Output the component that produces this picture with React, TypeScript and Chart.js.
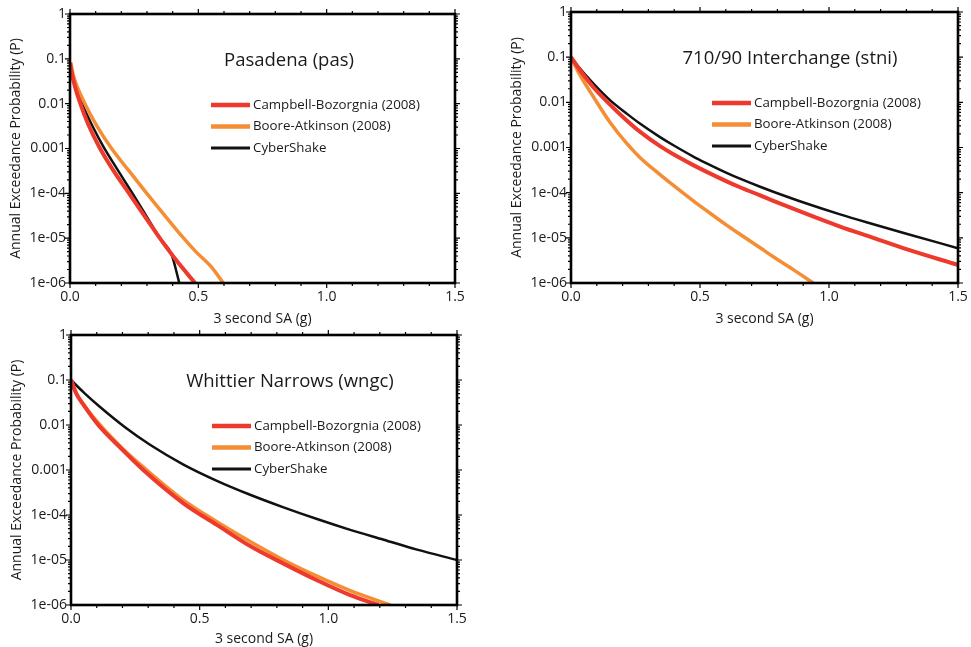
import React, { useEffect, useRef } from "react";
import { Chart, registerables } from "chart.js";

Chart.register(...registerables);

// ---------- data ----------
const SERIES_LABELS = ["Campbell-Bozorgnia (2008)", "Boore-Atkinson (2008)", "CyberShake"];
const SERIES_COLORS = ["#ee3a2c", "#f58d35", "#111111"];

const X_TICK_VALUES = [0, 0.5, 1.0, 1.5];
const X_TICK_LABELS = ["0.0", "0.5", "1.0", "1.5"];
const Y_TICK_VALUES = [1e-6, 1e-5, 1e-4, 1e-3, 1e-2, 1e-1, 1];
const Y_TICK_LABELS = ["1e-06", "1e-05", "1e-04", "0.001", "0.01", "0.1", "1"];
const X_TITLE = "3 second SA (g)";
const Y_TITLE = "Annual Exceedance Probability (P)";

// Pasadena (pas)
const PAS_CB_X = [0, 0.01, 0.02, 0.039, 0.07, 0.115, 0.17, 0.23, 0.29, 0.35, 0.415, 0.487];
const PAS_CB_P = [7.94e-2, 3.98e-2, 2.34e-2, 1.05e-2, 3.55e-3, 1.05e-3, 3.16e-4, 1.0e-4, 3.16e-5, 1.0e-5, 3.16e-6, 1.0e-6];
const PAS_BA_X = [0.003, 0.012, 0.03, 0.058, 0.105, 0.162, 0.23, 0.299, 0.367, 0.435, 0.49, 0.549, 0.597];
const PAS_BA_P = [8.32e-2, 4.47e-2, 2.24e-2, 1.0e-2, 3.16e-3, 1.0e-3, 3.16e-4, 1.0e-4, 3.31e-5, 1.12e-5, 5.01e-6, 2.34e-6, 1.0e-6];
const PAS_CS_X = [0, 0.01, 0.025, 0.049, 0.085, 0.13, 0.185, 0.24, 0.295, 0.35, 0.396, 0.426];
const PAS_CS_P = [7.94e-2, 4.17e-2, 2.09e-2, 9.33e-3, 3.39e-3, 1.1e-3, 3.39e-4, 1.07e-4, 3.31e-5, 1.0e-5, 4.27e-6, 1.0e-6];

// 710/90 Interchange (stni)
const STNI_CB_X = [0, 0.03, 0.086, 0.151, 0.216, 0.267, 0.345, 0.397, 0.474, 0.526, 0.603, 0.655, 0.733, 0.784, 0.913, 1.043, 1.172, 1.3, 1.5];
const STNI_CB_P = [1.0e-1, 5.62e-2, 2.19e-2, 8.91e-3, 3.98e-3, 2.24e-3, 1.07e-3, 7.08e-4, 4.07e-4, 2.88e-4, 1.78e-4, 1.32e-4, 8.71e-5, 6.61e-5, 3.39e-5, 1.78e-5, 1.0e-5, 5.62e-6, 2.51e-6];
const STNI_BA_X = [0, 0.03, 0.086, 0.151, 0.216, 0.267, 0.345, 0.397, 0.474, 0.526, 0.603, 0.655, 0.733, 0.784, 0.86, 0.939];
const STNI_BA_P = [1.0e-1, 4.47e-2, 1.35e-2, 3.63e-3, 1.23e-3, 6.03e-4, 2.51e-4, 1.45e-4, 6.61e-5, 3.98e-5, 1.91e-5, 1.2e-5, 6.03e-6, 3.8e-6, 2.0e-6, 1.0e-6];
const STNI_CS_X = [0, 0.03, 0.086, 0.151, 0.216, 0.267, 0.345, 0.397, 0.474, 0.526, 0.603, 0.655, 0.733, 0.784, 0.913, 1.043, 1.172, 1.3, 1.5];
const STNI_CS_P = [1.0e-1, 6.03e-2, 2.63e-2, 1.12e-2, 5.62e-3, 3.39e-3, 1.7e-3, 1.12e-3, 6.31e-4, 4.47e-4, 2.75e-4, 2.04e-4, 1.35e-4, 1.05e-4, 5.75e-5, 3.31e-5, 2.0e-5, 1.23e-5, 5.89e-6];

// Whittier Narrows (wngc)
const WNGC_CB_X = [0, 0.02, 0.048, 0.106, 0.2, 0.281, 0.437, 0.567, 0.696, 0.826, 0.956, 1.085, 1.195];
const WNGC_CB_P = [1.0e-1, 5.01e-2, 2.82e-2, 1.0e-2, 2.82e-3, 1.0e-3, 1.82e-4, 6.03e-5, 2.04e-5, 8.32e-6, 3.55e-6, 1.66e-6, 1.0e-6];
const WNGC_BA_X = [0, 0.02, 0.05, 0.113, 0.2, 0.29, 0.437, 0.567, 0.696, 0.826, 0.956, 1.085, 1.241];
const WNGC_BA_P = [1.0e-1, 5.25e-2, 2.82e-2, 1.0e-2, 3.02e-3, 1.05e-3, 2.14e-4, 7.08e-5, 2.57e-5, 1.0e-5, 4.37e-6, 2.09e-6, 1.0e-6];
const WNGC_CS_X = [0, 0.05, 0.113, 0.21, 0.307, 0.437, 0.567, 0.696, 0.826, 0.956, 1.085, 1.215, 1.345, 1.5];
const WNGC_CS_P = [1.0e-1, 5.25e-2, 2.51e-2, 8.91e-3, 3.63e-3, 1.32e-3, 5.75e-4, 2.82e-4, 1.48e-4, 8.13e-5, 4.68e-5, 2.82e-5, 1.7e-5, 1.0e-5];

// ---------- styling ----------
const FONT = '"Open Sans", "Noto Sans", sans-serif';
const LINE_WIDTHS = [4, 3.5, 2.5];
const LEGEND_WIDTHS = [4.5, 4.5, 3];

const overlayPlugin = {
  id: "overlay",
  afterDraw(chart: any, _args: any, opts: any) {
    const { ctx, chartArea: a, scales } = chart;
    const xs = scales.x;
    const ys = scales.y;
    ctx.save();
    ctx.strokeStyle = "#000";
    // ticks
    ctx.lineWidth = 1.2;
    ctx.beginPath();
    for (let i = 0; i <= 15; i++) {
      const v = i / 10;
      const px = xs.getPixelForValue(v);
      const major = i % 5 === 0;
      const len = major ? 5 : 3;
      ctx.moveTo(px, a.bottom);
      ctx.lineTo(px, a.bottom + len);
      ctx.moveTo(px, a.top);
      ctx.lineTo(px, a.top - len);
    }
    for (let e = -6; e <= 0; e++) {
      for (let m = 1; m <= 9; m++) {
        if (e === 0 && m > 1) break;
        const v = m * Math.pow(10, e);
        const py = ys.getPixelForValue(v);
        const len = m === 1 ? 5 : 3;
        ctx.moveTo(a.left, py);
        ctx.lineTo(a.left - len, py);
        ctx.moveTo(a.right, py);
        ctx.lineTo(a.right + len, py);
      }
    }
    ctx.stroke();
    // frame
    ctx.lineWidth = 2.6;
    ctx.strokeRect(a.left, a.top, a.right - a.left, a.bottom - a.top);
    // title
    ctx.fillStyle = "#1a1a1a";
    ctx.font = `18.5px ${FONT}`;
    ctx.textAlign = "center";
    ctx.textBaseline = "middle";
    ctx.fillText(opts.title, a.left + 219, a.top + 47);
    // legend
    ctx.font = `13.3px ${FONT}`;
    ctx.textAlign = "left";
    chart.data.datasets.forEach((ds: any, i: number) => {
      const y = a.top + 91 + i * 21.5;
      ctx.strokeStyle = ds.borderColor;
      ctx.lineWidth = LEGEND_WIDTHS[i];
      ctx.beginPath();
      ctx.moveTo(a.left + 141, y);
      ctx.lineTo(a.left + 180, y);
      ctx.stroke();
      ctx.fillStyle = "#1a1a1a";
      ctx.fillText(ds.label, a.left + 183, y);
    });
    ctx.restore();
  },
};

type PanelProps = {
  title: string;
  xs: number[][];
  ps: number[][];
  left: number;
  top: number;
  width: number;
  height: number;
  padTop: number;
  padRight: number;
  xAxisHeight: number;
  xTitlePad: number;
};

function Panel(p: PanelProps) {
  const ref = useRef<HTMLCanvasElement | null>(null);
  useEffect(() => {
    if (!ref.current) return;
    const datasets = SERIES_LABELS.map((label, i) => ({
      label,
      data: p.xs[i].map((x, j) => ({ x, y: p.ps[i][j] })),
      borderColor: SERIES_COLORS[i],
      backgroundColor: SERIES_COLORS[i],
      borderWidth: LINE_WIDTHS[i],
      pointRadius: 0,
      cubicInterpolationMode: "monotone" as const,
      fill: false,
    }));
    const chart = new Chart(ref.current, {
      type: "line",
      data: { datasets },
      plugins: [overlayPlugin],
      options: {
        animation: false,
        responsive: true,
        maintainAspectRatio: false,
        layout: { padding: { top: p.padTop, right: p.padRight, left: 0, bottom: 0 } },
        plugins: {
          legend: { display: false },
          tooltip: { enabled: false },
          overlay: { title: p.title },
        } as any,
        scales: {
          x: {
            type: "linear",
            min: 0,
            max: 1.5,
            afterBuildTicks: (s: any) => {
              s.ticks = X_TICK_VALUES.map((v) => ({ value: v }));
            },
            afterFit: (s: any) => {
              s.height = p.xAxisHeight;
            },
            ticks: {
              color: "#1a1a1a",
              font: { family: FONT, size: 14 },
              padding: 3,
              maxRotation: 0,
              autoSkip: false,
              callback: (v: any) => {
                const i = X_TICK_VALUES.indexOf(Number(v));
                return i >= 0 ? X_TICK_LABELS[i] : "";
              },
            },
            grid: { display: false, drawTicks: true, tickLength: 3 },
            border: { display: false },
            title: {
              display: true,
              text: X_TITLE,
              color: "#1a1a1a",
              font: { family: FONT, size: 14 },
              padding: { top: 0, bottom: p.xTitlePad },
            },
          },
          y: {
            type: "logarithmic",
            min: 1e-6,
            max: 1,
            afterBuildTicks: (s: any) => {
              s.ticks = Y_TICK_VALUES.map((v) => ({ value: v }));
            },
            afterFit: (s: any) => {
              s.width = 70;
            },
            ticks: {
              color: "#1a1a1a",
              font: { family: FONT, size: 14 },
              padding: 1,
              autoSkip: false,
              callback: (v: any) => {
                const i = Y_TICK_VALUES.findIndex((t) => Math.abs(t - Number(v)) / t < 1e-6);
                return i >= 0 ? Y_TICK_LABELS[i] : "";
              },
            },
            grid: { display: false, drawTicks: true, tickLength: 3 },
            border: { display: false },
            title: {
              display: true,
              text: Y_TITLE,
              color: "#1a1a1a",
              font: { family: FONT, size: 14 },
              padding: { top: 8, bottom: 0 },
            },
          },
        },
      } as any,
    });
    return () => chart.destroy();
  }, []);
  return (
    <div
      style={{
        position: "absolute",
        left: p.left,
        top: p.top,
        width: p.width,
        height: p.height,
      }}
    >
      <canvas ref={ref} />
    </div>
  );
}

export default function App() {
  return (
    <div
      style={{
        position: "fixed",
        left: 0,
        top: 0,
        width: 971,
        height: 647,
        overflow: "hidden",
        background: "#fff",
      }}
    >
      <Panel
        title="Pasadena (pas)"
        xs={[PAS_CB_X, PAS_BA_X, PAS_CS_X]}
        ps={[PAS_CB_P, PAS_BA_P, PAS_CS_P]}
        left={0}
        top={0}
        width={480}
        height={330}
        padTop={14}
        padRight={25}
        xAxisHeight={47}
        xTitlePad={3}
      />
      <Panel
        title="710/90 Interchange (stni)"
        xs={[STNI_CB_X, STNI_BA_X, STNI_CS_X]}
        ps={[STNI_CB_P, STNI_BA_P, STNI_CS_P]}
        left={501}
        top={0}
        width={470}
        height={330}
        padTop={12}
        padRight={13}
        xAxisHeight={47}
        xTitlePad={3}
      />
      <Panel
        title="Whittier Narrows (wngc)"
        xs={[WNGC_CB_X, WNGC_BA_X, WNGC_CS_X]}
        ps={[WNGC_CB_P, WNGC_BA_P, WNGC_CS_P]}
        left={1}
        top={321}
        width={480}
        height={326}
        padTop={14}
        padRight={24}
        xAxisHeight={42}
        xTitlePad={0}
      />
    </div>
  );
}
